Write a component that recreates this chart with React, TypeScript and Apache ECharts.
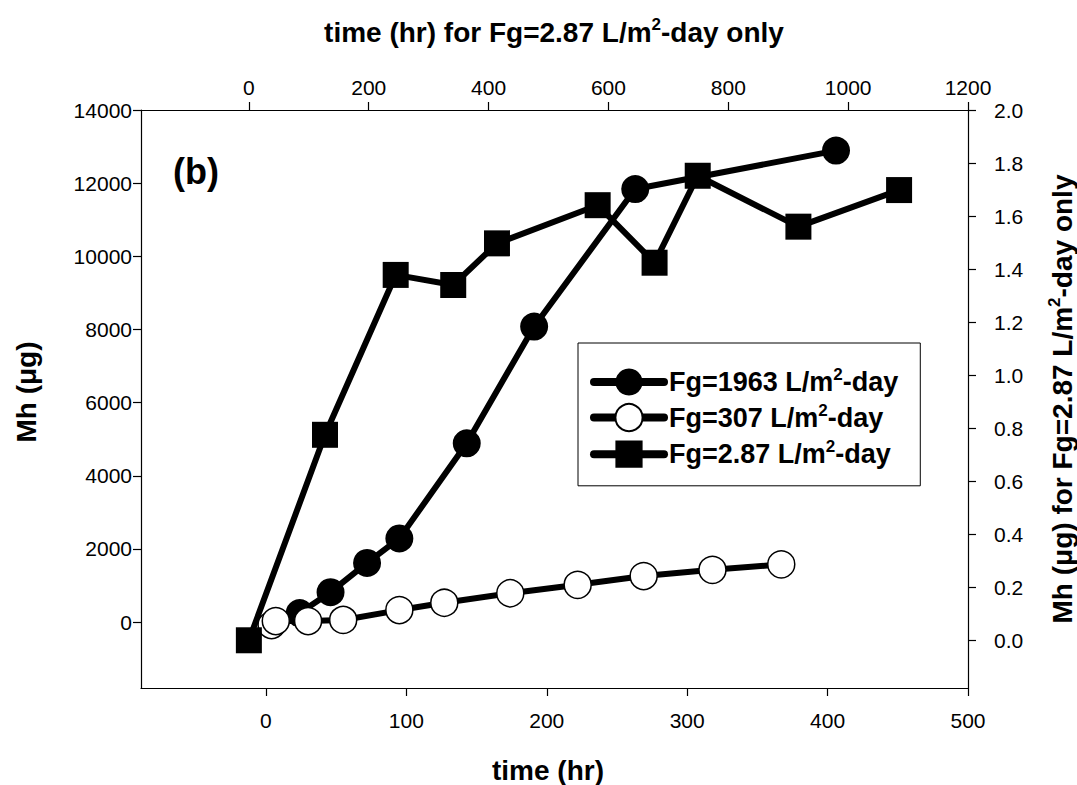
import React, { useEffect, useRef } from "react";
import * as echarts from "echarts";

// ---- tick labels ----
const bottomTicks = [0, 100, 200, 300, 400, 500];
const topTicks = [0, 200, 400, 600, 800, 1000, 1200];
const leftTicks = [0, 2000, 4000, 6000, 8000, 10000, 12000, 14000];
const rightTicks = [0, 0.2, 0.4, 0.6, 0.8, 1.0, 1.2, 1.4, 1.6, 1.8, 2.0];

// ---- series: Fg=1963 L/m2-day (bottom time axis, left Mh axis) ----
const fg1963Time = [24, 46, 72, 95, 143, 191, 263, 406];
const fg1963Mh = [250, 820, 1620, 2290, 4890, 8080, 11840, 12890];

// ---- series: Fg=307 L/m2-day (bottom time axis, left Mh axis) ----
const fg307Time = [4, 7, 30, 55, 95, 127, 174, 222, 269, 318, 367];
const fg307Mh = [-80, 30, 30, 60, 330, 530, 790, 1020, 1260, 1430, 1580];

// ---- series: Fg=2.87 L/m2-day (top time axis, right Mh axis) ----
const fg287Time = [0, 127, 245, 341, 414, 582, 677, 749, 917, 1085];
const fg287Mh = [0, 0.775, 1.378, 1.34, 1.497, 1.641, 1.424, 1.752, 1.56, 1.698];

const seriesNames = ["Fg=1963 L/m2-day", "Fg=307 L/m2-day", "Fg=2.87 L/m2-day"];
const legendRich: Record<string, string> = {
  "Fg=1963 L/m2-day": "{a|Fg=1963 L/m}{s|2}{a|-day}",
  "Fg=307 L/m2-day": "{a|Fg=307 L/m}{s|2}{a|-day}",
  "Fg=2.87 L/m2-day": "{a|Fg=2.87 L/m}{s|2}{a|-day}",
};

const FONT = "'Liberation Sans', Arial, Helvetica, sans-serif";

const zip = (xs: number[], ys: number[]) => xs.map((x, i) => [x, ys[i]]);

export default function App() {
  const ref = useRef<HTMLDivElement>(null);

  useEffect(() => {
    if (!ref.current) return;
    const chart = echarts.init(ref.current, undefined, { renderer: "svg" });

    const axisCommon = {
      type: "value" as const,
      splitLine: { show: false },
      axisLine: { show: true, onZero: false, lineStyle: { color: "#000", width: 1.2 } },
      axisTick: { show: true, inside: false, length: 8, lineStyle: { color: "#000", width: 1.2 } },
    };
    const labelStyle = { color: "#000", fontFamily: FONT, fontSize: 21 };

    const titleRich = {
      a: { fontFamily: FONT, fontSize: 28, fontWeight: "bold", color: "#000", lineHeight: 32 },
      s: { fontFamily: FONT, fontSize: 17, fontWeight: "bold", color: "#000", verticalAlign: "top", lineHeight: 32 },
    };

    chart.setOption({
      animation: false,
      backgroundColor: "#fff",
      grid: { left: 141, right: 109, top: 110, bottom: 97, containLabel: false },
      xAxis: [
        {
          ...axisCommon,
          position: "bottom",
          min: -89,
          max: 500,
          axisTick: { ...axisCommon.axisTick, customValues: bottomTicks },
          axisLabel: { ...labelStyle, margin: 22, customValues: bottomTicks, formatter: (v: number) => String(v) },
        },
        {
          ...axisCommon,
          position: "top",
          min: -180,
          max: 1200,
          axisTick: { ...axisCommon.axisTick, customValues: topTicks },
          axisLabel: { ...labelStyle, margin: 12, customValues: topTicks, formatter: (v: number) => String(v) },
        },
      ],
      yAxis: [
        {
          ...axisCommon,
          position: "left",
          min: -1800,
          max: 14000,
          axisTick: { ...axisCommon.axisTick, customValues: leftTicks },
          axisLabel: { ...labelStyle, margin: 9, customValues: leftTicks, formatter: (v: number) => String(v) },
        },
        {
          ...axisCommon,
          position: "right",
          min: -0.18,
          max: 2.0,
          axisTick: { ...axisCommon.axisTick, customValues: rightTicks },
          axisLabel: {
            ...labelStyle,
            margin: 26,
            customValues: rightTicks,
            formatter: (v: number) => v.toFixed(1),
          },
        },
      ],
      legend: {
        show: true,
        orient: "vertical",
        left: 578,
        top: 343,
        padding: [23, 22, 18, 12],
        itemGap: 6,
        itemWidth: 70,
        itemHeight: 34,
        borderColor: "#000",
        borderWidth: 1,
        backgroundColor: "#fff",
        data: seriesNames,
        lineStyle: { width: 8, cap: "round" },
        formatter: (name: string) => legendRich[name] || name,
        textStyle: {
          color: "#000",
          rich: {
            a: { fontFamily: FONT, fontSize: 27, fontWeight: "bold", color: "#000", lineHeight: 32 },
            s: { fontFamily: FONT, fontSize: 17, fontWeight: "bold", color: "#000", verticalAlign: "top", lineHeight: 32 },
          },
        },
      },
      series: [
        {
          name: seriesNames[0],
          type: "line",
          xAxisIndex: 0,
          yAxisIndex: 0,
          data: zip(fg1963Time, fg1963Mh),
          symbol: "circle",
          symbolSize: 28,
          lineStyle: { color: "#000", width: 6 },
          itemStyle: { color: "#000", borderColor: "#000", borderWidth: 0 },
          emphasis: { disabled: true },
        },
        {
          name: seriesNames[1],
          type: "line",
          xAxisIndex: 0,
          yAxisIndex: 0,
          data: zip(fg307Time, fg307Mh),
          symbol: "circle",
          symbolSize: 27,
          lineStyle: { color: "#000", width: 6 },
          itemStyle: { color: "#fff", borderColor: "#000", borderWidth: 1.5 },
          emphasis: { disabled: true },
        },
        {
          name: seriesNames[2],
          type: "line",
          xAxisIndex: 1,
          yAxisIndex: 1,
          data: zip(fg287Time, fg287Mh),
          symbol: "rect",
          symbolSize: 26,
          lineStyle: { color: "#000", width: 6 },
          itemStyle: { color: "#000", borderWidth: 0 },
          emphasis: { disabled: true },
        },
      ],
      graphic: [
        {
          type: "text",
          x: 196,
          y: 171,
          style: {
            text: "(b)",
            fontFamily: FONT,
            fontSize: 36,
            fontWeight: "bold",
            fill: "#000",
            align: "center",
            verticalAlign: "middle",
          },
        },
        {
          type: "text",
          x: 548,
          y: 770,
          style: {
            text: "{a|time (hr)}",
            rich: titleRich,
            align: "center",
            verticalAlign: "middle",
          },
        },
        {
          type: "text",
          x: 554,
          y: 32,
          style: {
            text: "{a|time (hr) for Fg=2.87 L/m}{s|2}{a|-day only}",
            rich: titleRich,
            align: "center",
            verticalAlign: "middle",
          },
        },
        {
          type: "text",
          x: 26,
          y: 392,
          rotation: Math.PI / 2,
          style: {
            text: "{a|Mh (\u03bcg)}",
            rich: titleRich,
            align: "center",
            verticalAlign: "middle",
          },
        },
        {
          type: "text",
          x: 1062,
          y: 399,
          rotation: Math.PI / 2,
          style: {
            text: "{a|Mh (\u03bcg) for Fg=2.87 L/m}{s|2}{a|-day only}",
            rich: titleRich,
            align: "center",
            verticalAlign: "middle",
          },
        },
      ],
    });

    return () => chart.dispose();
  }, []);

  return (
    <div
      ref={ref}
      style={{ position: "absolute", left: 0, top: 0, width: 1077, height: 785, background: "#fff" }}
    />
  );
}
